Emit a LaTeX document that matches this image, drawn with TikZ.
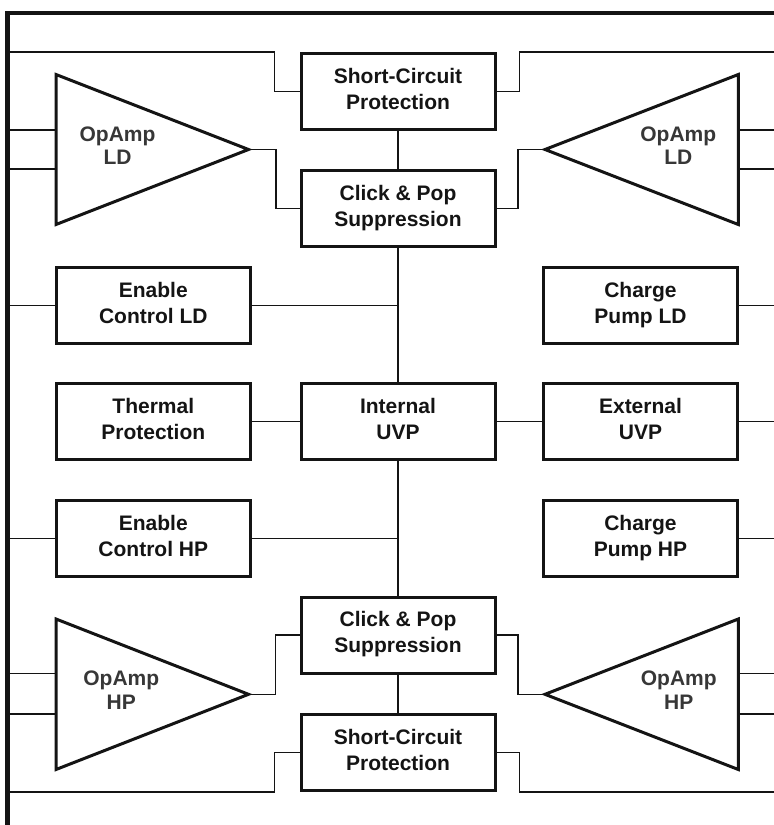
\documentclass[tikz,border=0pt]{standalone}
\usepackage{fontspec}
\setmainfont{Liberation Sans}
\definecolor{ink}{RGB}{20,20,20}
\definecolor{amptext}{RGB}{55,55,55}
\newcommand\blkstrut{\rule[-5.5pt]{0pt}{26pt}}
\newcommand\ampstrut{\rule[-4.2pt]{0pt}{23.4pt}}
\tikzset{
  blk/.style={draw=ink, line width=3pt, minimum width=194pt, minimum height=76pt,
    inner sep=0pt, align=center, text=ink,
    font=\fontsize{21}{26}\selectfont\bfseries,
    execute at begin node=\blkstrut, execute at end node=\blkstrut},
  wire/.style={draw=ink, line width=1.3pt},
  amp/.style={draw=ink, line width=3pt, line join=miter},
  amplabel/.style={align=center, inner sep=0pt, text=amptext,
    font=\fontsize{21}{23.4}\selectfont\bfseries,
    execute at begin node=\ampstrut, execute at end node=\ampstrut},
  chip/.style={draw=ink, line width=4.8pt, line join=miter},
}
\begin{document}
\begin{tikzpicture}[x=1pt,y=-1pt]
\useasboundingbox (0,0) rectangle (774,825);

% chip outline
\coordinate (bBL) at (7.7,825);
\coordinate (bTL) at (7.7,13);
\coordinate (bTR) at (774,13);
\coordinate (Lb) at (7.7,0);
\coordinate (Rb) at (774,0);

% blocks
\node[blk] (scT)  at (398,91.5)  {Short-Circuit\\Protection};
\node[blk] (cpT)  at (398,208.5) {Click \& Pop\\Suppression};
\node[blk] (enLD) at (153.3,305.5) {Enable\\Control LD};
\node[blk] (cpLD) at (640.5,305.5) {Charge\\Pump LD};
\node[blk] (thp)  at (153.3,421.3) {Thermal\\Protection};
\node[blk] (iuvp) at (398,421.3)   {Internal\\UVP};
\node[blk] (euvp) at (640.5,421.3) {External\\UVP};
\node[blk] (enHP) at (153.3,538.5) {Enable\\Control HP};
\node[blk] (cpHP) at (640.5,538.5) {Charge\\Pump HP};
\node[blk] (cpB)  at (398,635)   {Click \& Pop\\Suppression};
\node[blk] (scB)  at (398,752.5) {Short-Circuit\\Protection};

% op-amp triangles
\coordinate (aLt1) at (56,74.5);   \coordinate (aLb1) at (56,224.5);  \coordinate (aLo1) at (248.5,149.5);
\coordinate (aRt1) at (738.3,74.5);\coordinate (aRb1) at (738.3,224.5);\coordinate (aRo1) at (545,149.5);
\coordinate (aLt2) at (56,619);    \coordinate (aLb2) at (56,769.5);  \coordinate (aLo2) at (248.5,694.3);
\coordinate (aRt2) at (738.3,619); \coordinate (aRb2) at (738.3,769.5);\coordinate (aRo2) at (545,694.3);

\draw[amp] (aLt1) -- (aLo1) -- (aLb1) -- cycle;
\draw[amp] (aRt1) -- (aRo1) -- (aRb1) -- cycle;
\draw[amp] (aLt2) -- (aLo2) -- (aLb2) -- cycle;
\draw[amp] (aRt2) -- (aRo2) -- (aRb2) -- cycle;

\node[amplabel] (lLD) at (117.5,147.5) {OpAmp\\LD};
\node[amplabel] (rLD) at (678.3,147.5) {OpAmp\\LD};
\node[amplabel] (lHP) at (121.3,692.2) {OpAmp\\HP};
\node[amplabel] (rHP) at (678.8,692.2) {OpAmp\\HP};

% op-amp inputs
\coordinate (aLi1a) at (56,130);    \coordinate (aLi1b) at (56,169);
\coordinate (aRi1a) at (738.3,130); \coordinate (aRi1b) at (738.3,169);
\coordinate (aLi2a) at (56,673.5);  \coordinate (aLi2b) at (56,714);
\coordinate (aRi2a) at (738.3,673.5);\coordinate (aRi2b) at (738.3,714);

\draw[wire] (aLi1a) -- (Lb |- aLi1a);
\draw[wire] (aLi1b) -- (Lb |- aLi1b);
\draw[wire] (aRi1a) -- (Rb |- aRi1a);
\draw[wire] (aRi1b) -- (Rb |- aRi1b);
\draw[wire] (aLi2a) -- (Lb |- aLi2a);
\draw[wire] (aLi2b) -- (Lb |- aLi2b);
\draw[wire] (aRi2a) -- (Rb |- aRi2a);
\draw[wire] (aRi2b) -- (Rb |- aRi2b);

% short-circuit top
\draw[wire] (scT.west) -- ++(-25,0) |- (Lb |- scT.north);
\draw[wire] (scT.east) -- ++(23,0) |- (Rb |- scT.north);
% amp outputs top
\draw[wire] (aLo1) -- ++(27.5,0) |- (cpT.west);
\draw[wire] (aRo1) -- ++(-27,0) |- (cpT.east);
% central spine
\draw[wire] (scT.south) -- (cpT.north);
\draw[wire] (cpT.south) -- (iuvp.north);
\draw[wire] (iuvp.south) -- (cpB.north);
\draw[wire] (cpB.south) -- (scB.north);
% side blocks
\draw[wire] (enLD.west) -- (Lb |- enLD.west);
\draw[wire] (enLD.east) -- (enLD.east -| cpT.south);
\draw[wire] (cpLD.east) -- (Rb |- cpLD.east);
\draw[wire] (thp.east) -- (iuvp.west);
\draw[wire] (iuvp.east) -- (euvp.west);
\draw[wire] (euvp.east) -- (Rb |- euvp.east);
\draw[wire] (enHP.west) -- (Lb |- enHP.west);
\draw[wire] (enHP.east) -- (enHP.east -| iuvp.south);
\draw[wire] (cpHP.east) -- (Rb |- cpHP.east);
% amp outputs bottom
\draw[wire] (aLo2) -- ++(27,0) |- (cpB.west);
\draw[wire] (aRo2) -- ++(-27,0) |- (cpB.east);
% short-circuit bottom
\draw[wire] (scB.west) -- ++(-25,0) |- (Lb |- scB.south);
\draw[wire] (scB.east) -- ++(23,0) |- (Rb |- scB.south);

% chip outline on top
\draw[chip] (bBL) -- (bTL) -- (bTR);
\end{tikzpicture}
\end{document}
